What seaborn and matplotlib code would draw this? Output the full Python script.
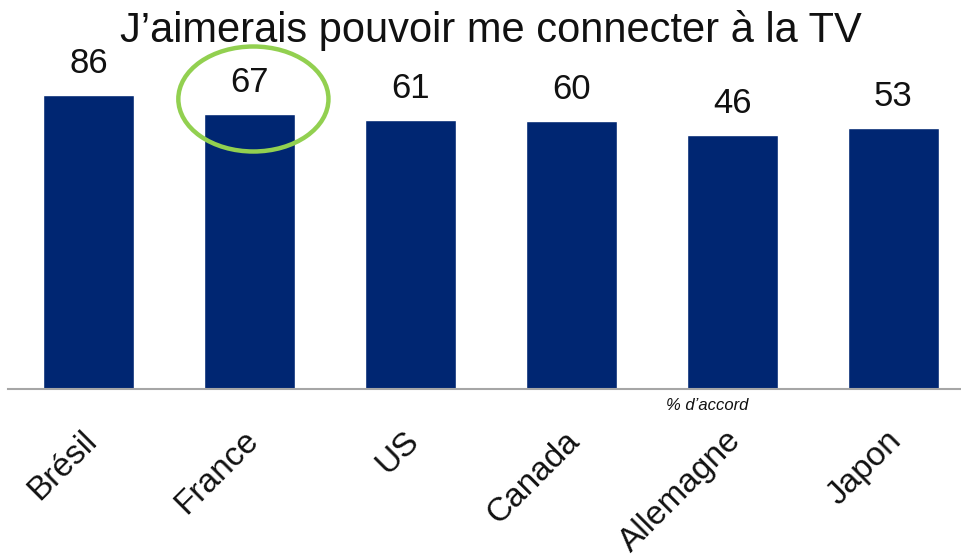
import matplotlib
matplotlib.use("Agg")
import matplotlib.pyplot as plt
from matplotlib.patches import Ellipse
from matplotlib.transforms import ScaledTranslation
import seaborn as sns

countries = ["Brésil", "France", "US", "Canada", "Allemagne", "Japon"]
agree_pct = [86, 67, 61, 60, 46, 53]
title = "J\u2019aimerais pouvoir me connecter à la TV"
unit_note = "% d\u2019accord"

# value axis is truncated: bars rise from a floor well below zero
floor = -208
ceiling = 181

sns.set_theme(style="white")
plt.rcParams["font.family"] = ["Liberation Sans", "DejaVu Sans"]

fig = plt.figure(figsize=(9.62, 5.60), dpi=100)
ax = fig.add_axes([8 / 962, 171 / 560, 965.5 / 962, 389 / 560])
ax.set_facecolor("none")

heights = [v - floor for v in agree_pct]
sns.barplot(x=countries, y=heights, bottom=floor, color="#002672",
            saturation=1, width=0.566, ax=ax)
ax.set_ylim(floor, ceiling)
ax.set_xlim(-0.5, len(countries) - 0.5)

for i, v in enumerate(agree_pct):
    ax.annotate(str(v), (i, v), xytext=(0, 22.5), textcoords="offset points",
                ha="center", va="center", fontsize=25, color="#111111")

ax.set_yticks([])
ax.set_ylabel("")
ax.set_xlabel("")
for side in ("left", "right", "top"):
    ax.spines[side].set_visible(False)
ax.spines["bottom"].set_color("#a6a6a6")
ax.spines["bottom"].set_linewidth(1.5)
ax.tick_params(axis="x", length=0, pad=26)
ax.set_xticks(range(len(countries)))
ax.set_xticklabels(countries, rotation=45, ha="right", rotation_mode="anchor",
                   fontsize=24, color="#111111")
shift = ScaledTranslation(-7 / 100, 0, fig.dpi_scale_trans)
for lbl in ax.get_xticklabels():
    lbl.set_transform(lbl.get_transform() + shift)

# highlight ring around the France value
ring = Ellipse((1.025, 67 + 15), width=0.933, height=105, fill=False,
               edgecolor="#92D050", linewidth=3.2, clip_on=False)
ax.add_patch(ring)

fig.text(491 / 962, 1 - 42 / 560, title, ha="center", va="baseline",
         fontsize=30, color="#111111")
fig.text(707 / 962, 1 - 405 / 560, unit_note, ha="center", va="center",
         fontsize=12, style="italic", color="#111111")

fig.savefig("out.png", dpi=100)
